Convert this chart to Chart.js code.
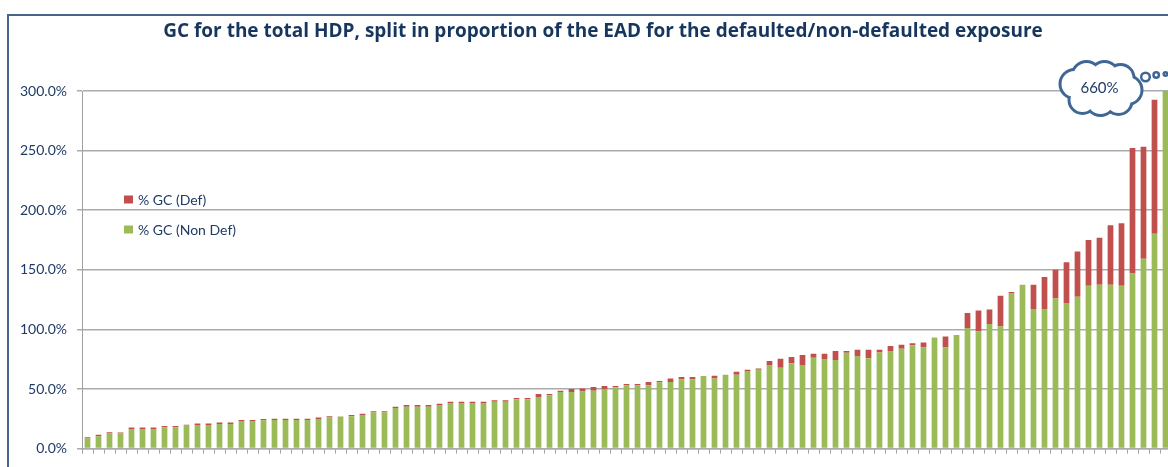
<!DOCTYPE html>
<html>
<head>
<meta charset="utf-8">
<script src="https://cdn.jsdelivr.net/npm/chart.js@4.4.1/dist/chart.umd.min.js"></script>
<style>
  html, body { margin: 0; padding: 0; overflow: hidden; background: #ffffff; }
  #wrap { position: absolute; left: 0; top: 0; width: 1171px; height: 467px; }
</style>
</head>
<body>
<div id="wrap"><canvas id="chartGC" width="1171" height="467"></canvas></div>
<script>
/* chart data */
const chartTitle = 'GC for the total HDP, split in proportion of the EAD for the defaulted/non-defaulted exposure';
const defLabel = '% GC (Def)';
const nonDefLabel = '% GC (Non Def)';

const nonDef = [
  8.4, 10.3, 12.6, 12.6, 16.5, 16.5, 16.5, 17.9, 17.9, 19.8,
  19.8, 19.8, 20.7, 20.7, 23.2, 23.2, 23.7, 23.9, 24.0, 24.0,
  24.0, 24.9, 26.0, 26.8, 27.1, 28.2, 30.2, 30.2, 34.1, 35.2,
  35.2, 35.2, 36.6, 38.3, 38.3, 38.3, 38.3, 39.4, 39.4, 41.3,
  41.3, 43.3, 44.7, 47.5, 47.5, 47.8, 48.6, 50.0, 51.4, 53.1,
  53.1, 53.1, 55.7, 55.9, 58.1, 58.1, 60.9, 58.9, 62.0, 62.0,
  65.1, 66.2, 70.1, 67.9, 71.5, 70.1, 76.3, 75.2, 74.3, 80.5,
  77.7, 75.7, 80.7, 81.9, 83.8, 86.6, 84.9, 93.3, 84.9, 95.3,
  101.1, 98.3, 104.5, 102.4, 130.5, 137.4, 117.1, 117.1, 126.0, 122.1,
  127.4, 136.6, 137.4, 137.4, 136.6, 146.9, 159.2, 180.2, 660.0
];
const def = [
  1.1, 1.4, 1.1, 0.9, 1.1, 1.1, 1.1, 1.1, 1.1, 0.3,
  1.2, 1.2, 1.1, 1.1, 0.8, 0.8, 1.2, 1.1, 1.1, 1.1,
  1.1, 1.1, 1.1, 0.2, 1.1, 1.1, 1.1, 1.1, 1.1, 1.4,
  1.4, 1.4, 1.1, 1.1, 1.1, 1.1, 1.1, 1.1, 1.1, 1.2,
  1.2, 2.5, 1.1, 1.1, 2.5, 2.7, 3.1, 2.5, 1.1, 1.1,
  1.1, 2.8, 1.1, 3.0, 2.0, 2.0, 0.0, 2.3, 0.0, 2.5,
  1.1, 1.1, 3.4, 7.5, 5.3, 8.4, 3.3, 4.4, 7.6, 1.4,
  5.3, 7.3, 2.3, 4.2, 3.4, 1.7, 4.2, 0.0, 9.2, 0.0,
  12.6, 17.6, 12.2, 25.8, 0.8, 0.0, 20.3, 26.8, 24.0, 34.3,
  37.9, 38.3, 39.4, 50.0, 52.5, 105.3, 94.1, 112.5, 0.0
];
const banks = nonDef.map((v, i) => 'Bank ' + (i + 1));
const yMax = 300;
const yStep = 50;

const textColor = '#1F3B66';
const gridColor = '#ABABAB';

/* frame, title and legend drawn on the canvas */
const framePlugin = {
  id: 'frame',
  beforeDraw(chart) {
    const ctx = chart.ctx;
    ctx.save();
    ctx.fillStyle = '#ffffff';
    ctx.fillRect(0, 0, chart.width, chart.height);
    ctx.strokeStyle = '#46678A';
    ctx.lineWidth = 2;
    ctx.strokeRect(8, 15, 2000, 2000);
    ctx.restore();
  },
  afterDraw(chart) {
    const ctx = chart.ctx;
    ctx.save();
    ctx.fillStyle = '#17365D';
    // title spans about 887px in the original
    ctx.font = 'bold 17px "Open Sans"';
    let size = 17 * 887 / ctx.measureText(chartTitle).width;
    size = Math.min(Math.max(size, 15), 19);
    ctx.font = 'bold ' + size.toFixed(1) + 'px "Open Sans"';
    ctx.textAlign = 'center';
    ctx.textBaseline = 'middle';
    ctx.fillText(chartTitle, 603, 32);

    ctx.font = '14px Lato';
    ctx.textAlign = 'left';
    const items = [chart.data.datasets[1], chart.data.datasets[0]];
    items.forEach((ds, k) => {
      const y = 199.5 + k * 30;
      ctx.fillStyle = ds.backgroundColor;
      ctx.fillRect(124, y - 4, 9, 8);
      ctx.fillStyle = textColor;
      ctx.fillText(ds.label, 138, y + 1);
    });
    ctx.restore();
  }
};

/* thought cloud for the bar that runs off the scale */
const cloudPlugin = {
  id: 'cloud',
  afterDraw(chart) {
    const ctx = chart.ctx;
    const last = nonDef.length - 1;
    const bx = chart.scales.x.getPixelForValue(last);
    const by = chart.scales.y.getPixelForValue(yMax);
    const cx = bx - 65, cy = by - 3;
    const bumps = [[-26, -4, 13], [-14, -12, 13], [4, -12, 13], [20, -10, 12],
                   [27, 2, 13], [18, 13, 12], [0, 13, 13], [-18, 12, 12]];
    ctx.save();
    ctx.strokeStyle = '#3F6796';
    ctx.lineWidth = 6;
    bumps.forEach(b => {
      ctx.beginPath();
      ctx.arc(cx + b[0], cy + b[1], b[2], 0, Math.PI * 2);
      ctx.stroke();
    });
    ctx.fillStyle = '#ffffff';
    bumps.forEach(b => {
      ctx.beginPath();
      ctx.arc(cx + b[0], cy + b[1], b[2], 0, Math.PI * 2);
      ctx.fill();
    });
    ctx.beginPath();
    ctx.ellipse(cx, cy, 27, 14, 0, 0, Math.PI * 2);
    ctx.fill();

    ctx.lineWidth = 2.5;
    [[-20, -14, 4.3], [-9.3, -16, 2.7], [0, -17, 1.8]].forEach(c => {
      ctx.beginPath();
      ctx.arc(bx + c[0], by + c[1], c[2], 0, Math.PI * 2);
      ctx.fill();
      ctx.stroke();
    });

    ctx.fillStyle = textColor;
    ctx.font = '15px Lato';
    ctx.textAlign = 'center';
    ctx.textBaseline = 'middle';
    ctx.fillText((nonDef[last] + def[last]).toFixed(0) + '%', cx - 1, cy);
    ctx.restore();
  }
};

const data = {
  labels: banks,
  datasets: [
    {
      label: nonDefLabel,
      data: nonDef,
      backgroundColor: '#9BBB59',
      barPercentage: 0.52,
      categoryPercentage: 1.0
    },
    {
      label: defLabel,
      data: def,
      backgroundColor: '#C0504D',
      barPercentage: 0.52,
      categoryPercentage: 1.0
    }
  ]
};

const config = {
  type: 'bar',
  data: data,
  options: {
    responsive: false,
    animation: false,
    layout: { padding: { top: 91, left: 0, right: 0, bottom: 13 } },
    plugins: {
      legend: { display: false },
      title: { display: false },
      tooltip: { enabled: false }
    },
    scales: {
      x: {
        stacked: true,
        ticks: { display: false },
        grid: { drawOnChartArea: false, drawTicks: true, tickLength: 5, color: '#A0A0A0', offset: true },
        border: { color: gridColor, width: 1.5 }
      },
      y: {
        stacked: true,
        min: 0,
        max: yMax,
        ticks: {
          stepSize: yStep,
          padding: 10,
          color: textColor,
          font: { family: 'Lato', size: 14 },
          callback: v => v.toFixed(1) + '%'
        },
        grid: { color: gridColor, lineWidth: 1.5, tickLength: 5 },
        border: { color: '#A0A0A0', width: 1 },
        afterFit: s => { s.width = 82; }
      }
    }
  },
  plugins: [framePlugin, cloudPlugin]
};

const ctx = document.getElementById('chartGC').getContext('2d');
const chartGC = new Chart(ctx, config);
</script>
</body>
</html>
